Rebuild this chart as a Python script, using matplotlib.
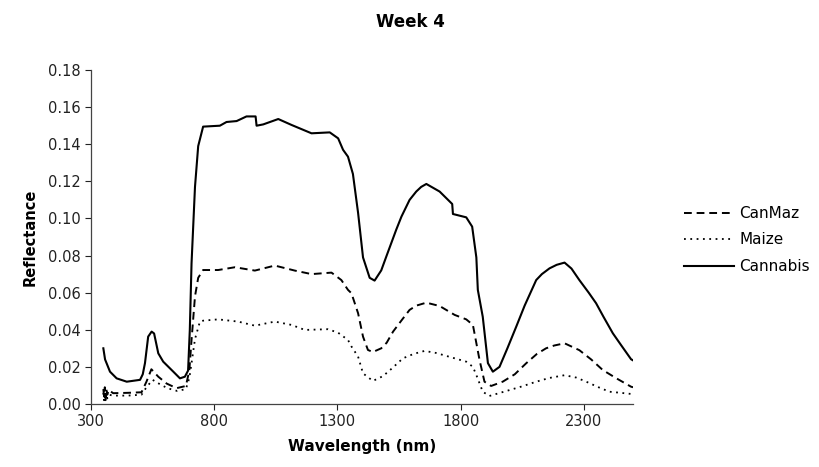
"""Week 4 reflectance spectra: CanMaz, Maize and Cannabis."""

import matplotlib
matplotlib.use("Agg")
import matplotlib.pyplot as plt

plt.rcParams["font.family"] = ["DejaVu Sans"]

# wavelength (nm) / reflectance
cannabis_wl = [350, 357, 377, 404, 445, 499, 510, 519, 532, 546, 556, 564, 573, 593,
               634, 661, 681, 694, 701, 708, 722, 735, 755, 823, 850, 891, 931, 968,
               972, 999, 1060, 1114, 1195, 1269, 1303, 1323, 1343, 1363, 1384, 1404,
               1431, 1451, 1478, 1500, 1539, 1560, 1593, 1620, 1640, 1661, 1715, 1766,
               1769, 1823, 1847, 1864, 1870, 1890, 1911, 1931, 1958, 1990, 2026, 2060,
               2107, 2130, 2161, 2190, 2222, 2250, 2282, 2320, 2350, 2380, 2418, 2450,
               2492, 2500]
cannabis = [0.030, 0.024, 0.0174, 0.0138, 0.012, 0.013, 0.016, 0.022, 0.0363, 0.039,
            0.038, 0.033, 0.0273, 0.0228, 0.0174, 0.0138, 0.0147, 0.018, 0.040, 0.0758,
            0.117, 0.139, 0.1495, 0.150, 0.152, 0.1525, 0.155, 0.155, 0.150, 0.1507,
            0.1536, 0.1504, 0.1459, 0.1464, 0.1432, 0.137, 0.1333, 0.124, 0.103, 0.079,
            0.068, 0.0665, 0.072, 0.080, 0.094, 0.101, 0.110, 0.1145, 0.117, 0.1186,
            0.1145, 0.1078, 0.1024, 0.1006, 0.0956, 0.079, 0.0615, 0.047, 0.022, 0.0174,
            0.020, 0.030, 0.0417, 0.053, 0.0668, 0.070, 0.0731, 0.075, 0.0762, 0.073,
            0.0668, 0.060, 0.0543, 0.047, 0.0381, 0.032, 0.0241, 0.0235]

canmaz_wl = [350, 353, 356, 359, 362, 366, 372, 390, 450, 505, 525, 545, 573, 607,
             647, 685, 699, 708, 722, 735, 755, 816, 884, 965, 1046, 1127, 1195, 1276,
             1316, 1343, 1357, 1384, 1404, 1424, 1444, 1478, 1500, 1526, 1560, 1593,
             1620, 1661, 1715, 1776, 1823, 1850, 1877, 1897, 1924, 1971, 2020, 2066,
             2110, 2147, 2180, 2222, 2282, 2330, 2377, 2430, 2492, 2500]
canmaz = [0.008, 0.004, 0.009, 0.003, 0.008, 0.005, 0.0075, 0.0058, 0.006, 0.0063,
          0.012, 0.0187, 0.0147, 0.011, 0.0085, 0.0097, 0.018, 0.0345, 0.058, 0.068,
          0.0722, 0.0722, 0.0737, 0.0719, 0.0746, 0.0719, 0.070, 0.0708, 0.0668,
          0.0615, 0.0597, 0.0489, 0.0363, 0.0291, 0.028, 0.030, 0.033, 0.039, 0.045,
          0.0507, 0.053, 0.0546, 0.0528, 0.048, 0.0456, 0.0426, 0.0237, 0.012, 0.0097,
          0.012, 0.016, 0.0219, 0.027, 0.030, 0.0315, 0.0327, 0.029, 0.024, 0.0183,
          0.014, 0.0093, 0.009]

maize_wl = [350, 353, 356, 359, 362, 366, 372, 390, 450, 505, 525, 550, 575, 610,
            650, 685, 699, 708, 722, 742, 755, 816, 897, 965, 1046, 1114, 1168, 1262,
            1303, 1343, 1357, 1384, 1404, 1444, 1485, 1520, 1566, 1610, 1654, 1700,
            1742, 1823, 1850, 1864, 1890, 1917, 1999, 2050, 2107, 2160, 2222, 2270,
            2310, 2360, 2404, 2450, 2492, 2500]
maize = [0.006, 0.002, 0.007, 0.002, 0.006, 0.003, 0.005, 0.0045, 0.0045, 0.005,
         0.009, 0.013, 0.011, 0.0085, 0.007, 0.008, 0.014, 0.022, 0.035, 0.0444,
         0.0449, 0.0456, 0.0444, 0.0422, 0.0444, 0.0426, 0.0399, 0.0403, 0.0384,
         0.0345, 0.031, 0.0255, 0.0165, 0.0124, 0.015, 0.019, 0.0246, 0.027, 0.0286,
         0.0275, 0.0259, 0.0228, 0.020, 0.0156, 0.0066, 0.0043, 0.0075, 0.0095, 0.012,
         0.014, 0.0155, 0.0142, 0.012, 0.009, 0.0066, 0.006, 0.0054, 0.0054]

x_ticks = [300, 800, 1300, 1800, 2300]
y_ticks = [0.00, 0.02, 0.04, 0.06, 0.08, 0.10, 0.12, 0.14, 0.16, 0.18]


fig = plt.figure(figsize=(8.2, 4.67), dpi=100)
ax = fig.add_axes([0.111, 0.135, 0.661, 0.715])

ax.plot(canmaz_wl, canmaz, color="black", lw=1.4, ls=(0, (4, 2.5)), label="CanMaz")
ax.plot(maize_wl, maize, color="black", lw=1.3, ls=(0, (1, 2.5)), label="Maize")
ax.plot(cannabis_wl, cannabis, color="black", lw=1.5, ls="-", label="Cannabis")

ax.set_xlim(300, 2500)
ax.set_ylim(0, 0.18)
ax.set_xticks(x_ticks)
ax.set_yticks(y_ticks)
ax.set_yticklabels([f"{v:.2f}" for v in y_ticks])
ax.tick_params(direction="out", length=4, width=0.8, labelsize=10.5, colors="#222222")
for side in ("top", "right"):
    ax.spines[side].set_visible(False)
for side in ("left", "bottom"):
    ax.spines[side].set_color("#444444")
    ax.spines[side].set_linewidth(0.9)

ax.set_xlabel("Wavelength (nm)", fontsize=11, fontweight="bold", labelpad=7)
ax.set_ylabel("Reflectance", fontsize=10.5, fontweight="bold", labelpad=7)

fig.text(0.5, 1 - 22 / 467, "Week 4", ha="center", va="center",
         fontsize=12, fontweight="bold")

ax.legend(loc="center left", bbox_to_anchor=(676 / 820, 1 - 240 / 467),
          bbox_transform=fig.transFigure, frameon=False, borderpad=0,
          fontsize=11, handlelength=3.3, labelspacing=0.75, handletextpad=0.35)

fig.savefig("out.png", dpi=100)
